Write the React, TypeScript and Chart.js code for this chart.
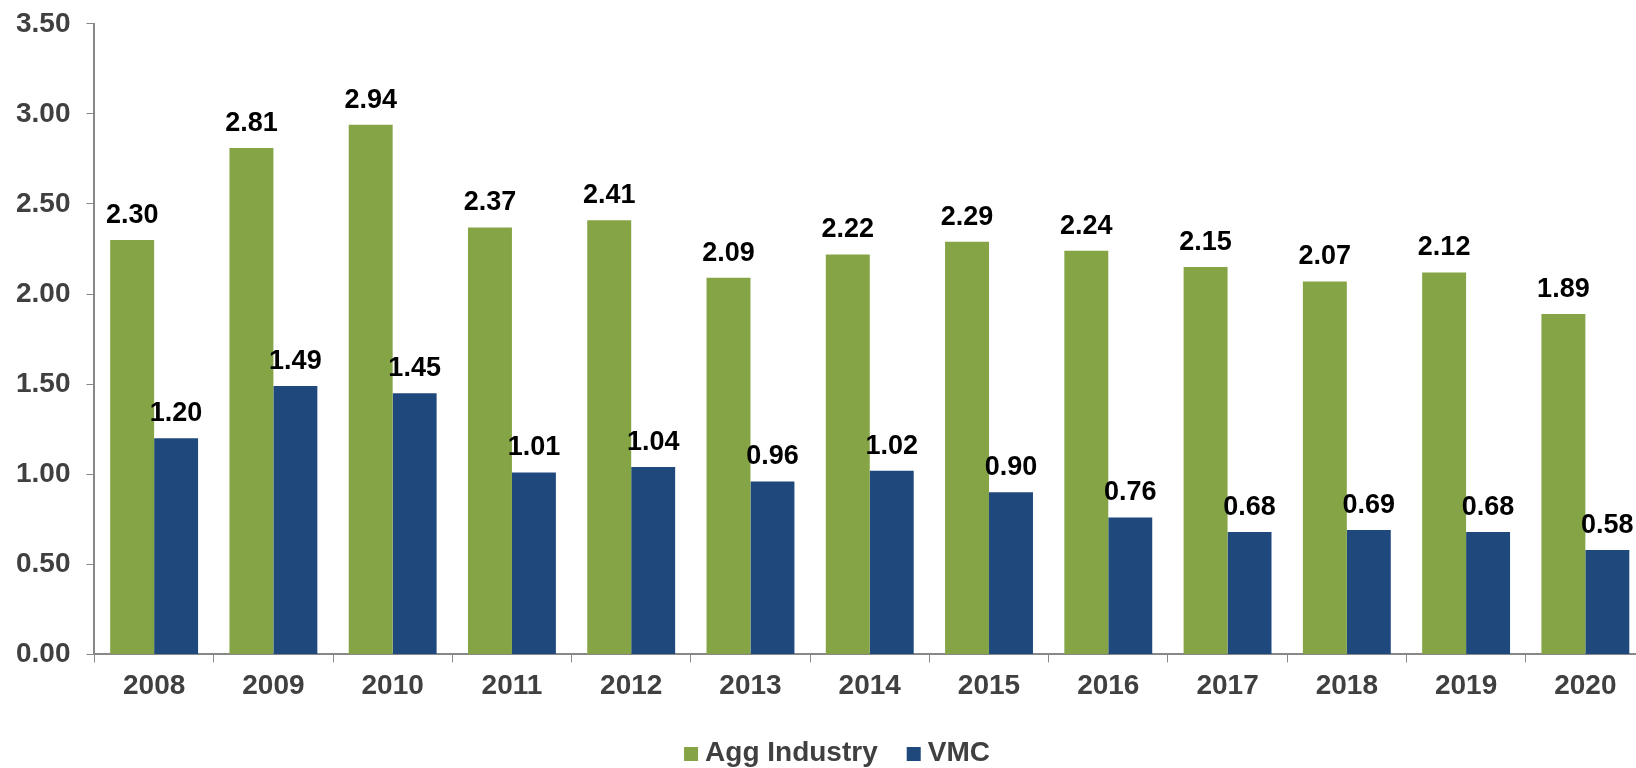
import React, { useEffect, useRef } from "react";
import { Chart, registerables } from "chart.js";

Chart.register(...registerables);

const years = ["2008", "2009", "2010", "2011", "2012", "2013", "2014", "2015", "2016", "2017", "2018", "2019", "2020"];
const aggIndustry = [2.30, 2.81, 2.94, 2.37, 2.41, 2.09, 2.22, 2.29, 2.24, 2.15, 2.07, 2.12, 1.89];
const vmc = [1.20, 1.49, 1.45, 1.01, 1.04, 0.96, 1.02, 0.90, 0.76, 0.68, 0.69, 0.68, 0.58];

const FONT = "'Liberation Sans', Arial, sans-serif";

const valueLabels = {
  id: "valueLabels",
  afterDatasetsDraw(chart: any) {
    const ctx = chart.ctx;
    ctx.save();
    ctx.font = `bold 27px ${FONT}`;
    ctx.fillStyle = "#000000";
    ctx.textAlign = "center";
    ctx.textBaseline = "alphabetic";
    chart.data.datasets.forEach((ds: any, i: number) => {
      const meta = chart.getDatasetMeta(i);
      meta.data.forEach((bar: any, j: number) => {
        ctx.fillText(Number(ds.data[j]).toFixed(2), bar.x, bar.y - 17);
      });
    });
    ctx.restore();
  },
};

// Custom bottom legend: box, small gap, text; centred at a fixed x.
const customLegend = {
  id: "customLegend",
  afterDraw(chart: any) {
    const ctx = chart.ctx;
    ctx.save();
    ctx.font = `bold 28px ${FONT}`;
    ctx.textBaseline = "alphabetic";
    ctx.textAlign = "left";
    const box = 14, gap = 7, itemGap = 29;
    const items = chart.data.datasets.map((ds: any) => ({
      label: ds.label,
      color: ds.backgroundColor,
      w: box + gap + ctx.measureText(ds.label).width,
    }));
    const total = items.reduce((s: number, it: any) => s + it.w, 0) + itemGap * (items.length - 1);
    let x = 837 - total / 2;
    const baseline = chart.height - 7;
    items.forEach((it: any) => {
      ctx.fillStyle = it.color;
      ctx.fillRect(x, baseline - box, box, box);
      ctx.fillStyle = "#404040";
      ctx.fillText(it.label, x + box + gap, baseline);
      x += it.w + itemGap;
    });
    ctx.restore();
  },
};

export default function App() {
  const ref = useRef<HTMLCanvasElement>(null);
  useEffect(() => {
    if (!ref.current) return;
    const chart = new Chart(ref.current, {
      type: "bar",
      data: {
        labels: years,
        datasets: [
          { label: "Agg Industry", data: aggIndustry, backgroundColor: "#84A445", barPercentage: 1, categoryPercentage: 0.737 },
          { label: "VMC", data: vmc, backgroundColor: "#1F497D", barPercentage: 1, categoryPercentage: 0.737 },
        ],
      },
      options: {
        responsive: false,
        animation: false,
        layout: { padding: { left: 0, right: 1, top: 0, bottom: 58 } },
        plugins: {
          legend: { display: false },
          tooltip: { enabled: false },
        },
        scales: {
          x: {
            grid: { display: true, drawOnChartArea: false, offset: true, tickLength: 8, color: "#888888" },
            border: { color: "#888888", width: 2 },
            ticks: { font: { family: FONT, size: 28, weight: "bold" }, color: "#404040", padding: 7 },
          },
          y: {
            min: 0,
            max: 3.5,
            grid: { display: true, drawOnChartArea: false, tickLength: 8, color: "#888888" },
            border: { color: "#888888", width: 2 },
            ticks: {
              stepSize: 0.5,
              font: { family: FONT, size: 28, weight: "bold" },
              color: "#404040",
              padding: 16,
              callback: (v: any) => Number(v).toFixed(2),
            },
          },
        },
      },
      plugins: [valueLabels, customLegend],
    });
    return () => chart.destroy();
  }, []);
  return (
    <div style={{ position: "fixed", left: 0, top: 0, width: 1636, height: 768, overflow: "hidden", background: "#fff" }}>
      <canvas ref={ref} width={1646} height={777} style={{ display: "block", position: "absolute", left: 0, top: -9 }} />
    </div>
  );
}
